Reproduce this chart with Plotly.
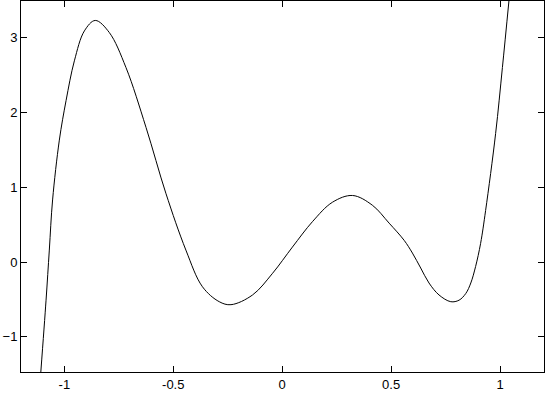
import plotly.graph_objects as go

# points
xs = [-1.108, -1.084, -1.069, -1.054, -1.023, -0.992, -0.954, -0.908, -0.858, -0.794, -0.717,
      -0.625, -0.534, -0.442, -0.366, -0.289, -0.235, -0.136, -0.044, 0.047, 0.139,
      0.231, 0.323, 0.414, 0.491, 0.560, 0.598, 0.636, 0.674, 0.720, 0.774, 0.812,
      0.843, 0.866, 0.888, 0.911, 0.934, 0.980, 1.011, 1.041]
ys = [-1.47, -0.51, 0.16, 0.83, 1.63, 2.16, 2.69, 3.09, 3.23, 3.07, 2.60,
      1.80, 0.92, 0.16, -0.33, -0.53, -0.57, -0.44, -0.15, 0.20, 0.54,
      0.80, 0.89, 0.76, 0.52, 0.29, 0.12, -0.08, -0.28, -0.44, -0.53, -0.51,
      -0.42, -0.28, -0.06, 0.25, 0.69, 1.72, 2.60, 3.49]

x_ticks = [-1, -0.5, 0, 0.5, 1]
x_labels = ["-1", "-0.5", "0", "0.5", "1"]
y_ticks = [-1, 0, 1, 2, 3]

fig = go.Figure()
fig.add_trace(go.Scatter(x=xs, y=ys, mode="lines",
                         line=dict(color="black", width=1, shape="spline", smoothing=1.0)))

axis = dict(showgrid=False, zeroline=False, showline=True, linecolor="black", linewidth=1,
            mirror="allticks", ticks="inside", ticklen=6, tickcolor="black", automargin=False,
            tickfont=dict(family="Liberation Sans", size=13, color="black"))
fig.update_xaxes(range=[-1.199, 1.202], tickvals=x_ticks, ticktext=x_labels, **axis)
fig.update_yaxes(range=[-1.47, 3.49], tickvals=y_ticks, **axis)
fig.update_layout(width=545, height=400, showlegend=False,
                  margin=dict(l=21, r=1, t=1, b=28),
                  plot_bgcolor="white", paper_bgcolor="white")
# drop the default body margin so the plot sits at the window's corner
fig.write_html("out.html", config={"displayModeBar": False},
               post_script="document.body.style.margin='0';")
